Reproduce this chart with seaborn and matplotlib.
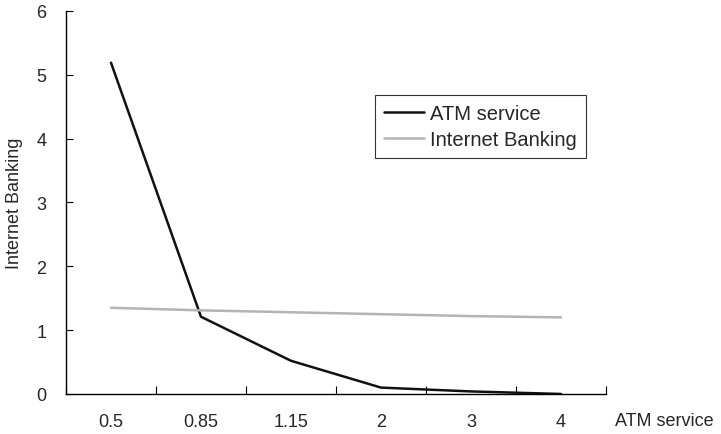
import numpy as np
import pandas as pd
import seaborn as sns
import matplotlib.pyplot as plt
from matplotlib.ticker import FixedLocator

# Values
categories = ["0.5", "0.85", "1.15", "2", "3", "4"]
atm_service = [5.19, 1.21, 0.52, 0.10, 0.04, 0.0]
internet_banking = [1.35, 1.31, 1.28, 1.25, 1.22, 1.20]

df = pd.DataFrame({
    "pos": list(range(len(categories))) * 2,
    "value": atm_service + internet_banking,
    "series": ["ATM service"] * len(categories) + ["Internet Banking"] * len(categories),
})

sns.set_style("white", {"xtick.bottom": True, "ytick.left": True})
plt.rcParams["font.family"] = ["Liberation Sans", "DejaVu Sans"]

fig = plt.figure(figsize=(7.21, 4.35), dpi=100)
ax = fig.add_axes([0.0915, 0.092, 0.749, 0.8805])

sns.lineplot(data=df, x="pos", y="value", hue="series",
             palette={"ATM service": "#111111", "Internet Banking": "#b4b4b4"},
             linewidth=1.8, ax=ax)

ax.set_xlim(-0.5, len(categories) - 0.5)
ax.set_ylim(0, 6)
ax.set_yticks(range(0, 7))

# category axis: ticks between categories, labels at centres
ax.xaxis.set_major_locator(FixedLocator(np.arange(-0.5, len(categories), 1.0)))
ax.xaxis.set_minor_locator(FixedLocator(np.arange(len(categories))))
ax.set_xticklabels([])
ax.set_xticklabels(categories, minor=True)
ax.tick_params(axis="x", which="major", bottom=True, direction="in", length=6,
               width=0.8, color="black")
ax.tick_params(axis="x", which="minor", bottom=True, length=0, pad=14, labelsize=13)
ax.tick_params(axis="y", left=True, direction="in", length=5, width=0.8, color="black",
               labelsize=13, pad=14)

for side in ["top", "right"]:
    ax.spines[side].set_visible(False)
for side in ["left", "bottom"]:
    ax.spines[side].set_color("black")
    ax.spines[side].set_linewidth(1.0)

ax.set_xlabel("")
ax.set_ylabel("Internet Banking", fontsize=13, labelpad=10)
fig.text(0.853, 0.03, "ATM service", fontsize=13, ha="left", va="center")

leg = ax.legend(loc="upper left", bbox_to_anchor=(0.572, 0.78), frameon=True,
                fancybox=False, fontsize=14.5, handlelength=2.0, borderpad=0.45,
                labelspacing=0.35, handletextpad=0.3, borderaxespad=0)
leg.get_frame().set_edgecolor("black")
leg.get_frame().set_linewidth(0.8)
leg.set_title(None)

fig.savefig("out.png", dpi=100)
